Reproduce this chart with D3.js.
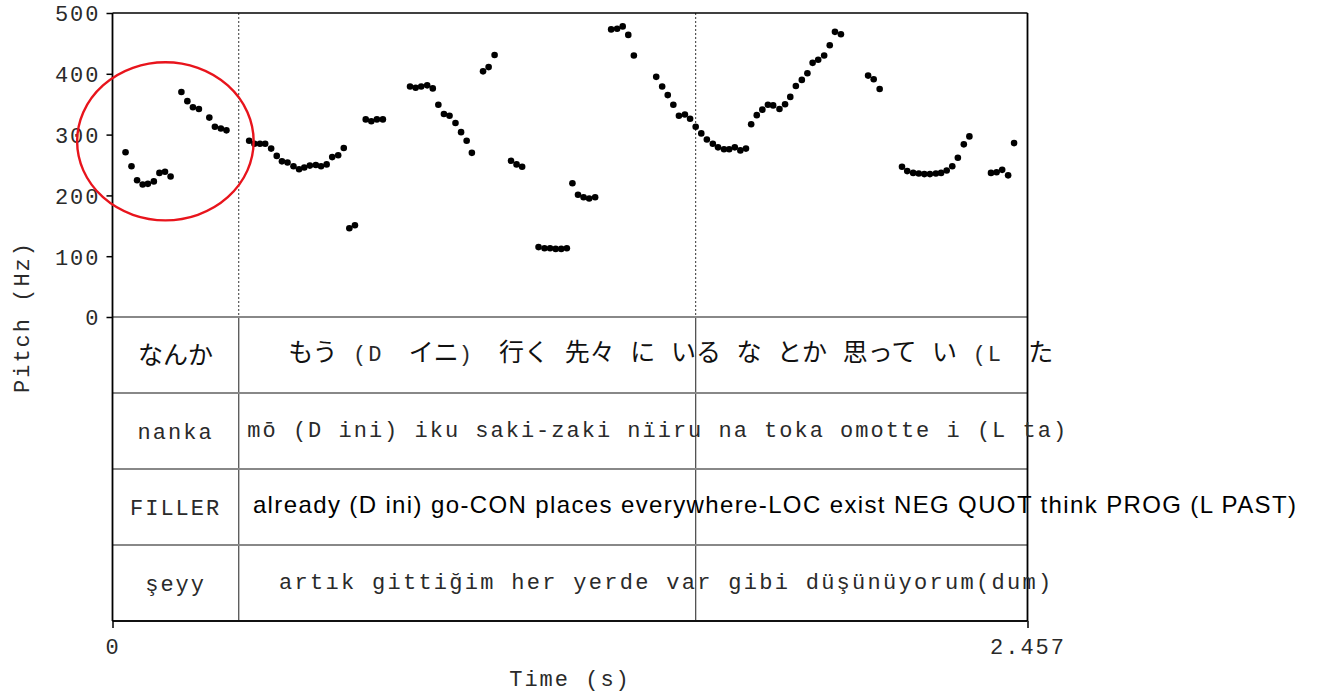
<!DOCTYPE html>
<html>
<meta charset="utf-8">
<head>
  <title>Pitch track with annotation tiers</title>
  <script src="https://d3js.org/d3.v7.min.js"></script>
  <style>
    body { margin: 0; background: #fff; }
    .mono { font-family: "Liberation Mono", "Courier New", monospace; font-size: 22px; letter-spacing: 2px; fill: #2a2a2a; }
    .jp { font-family: "Noto Sans CJK JP", sans-serif; font-size: 25px; fill: #111; }
    .sans { font-family: "Liberation Sans", Arial, sans-serif; font-size: 24px; fill: #000; }
  </style>
</head>
<body>
<div id="chart"></div>
<script>

// pitch track: time (s) and F0 (Hz)
var pitchTime = [
  0.035, 0.051, 0.066, 0.081, 0.095, 0.111, 0.126, 0.141, 0.156,
  0.185, 0.201, 0.216, 0.232, 0.260, 0.275, 0.291, 0.306,
  0.367, 0.381, 0.396, 0.410, 0.426, 0.441, 0.455, 0.470, 0.486, 0.501, 0.515, 0.530, 0.546, 0.560, 0.575, 0.590, 0.606, 0.621,
  0.636, 0.651,
  0.680, 0.695, 0.710, 0.726,
  0.799, 0.814, 0.829, 0.845, 0.860, 0.875, 0.890, 0.905, 0.921, 0.936, 0.951, 0.965,
  0.995, 1.010, 1.026,
  1.070, 1.085, 1.100,
  1.144, 1.160, 1.175, 1.190, 1.205, 1.220,
  1.235, 1.250, 1.265, 1.280, 1.296,
  1.339, 1.355, 1.370, 1.385, 1.400,
  1.460, 1.476, 1.491, 1.506, 1.521, 1.537, 1.551, 1.566, 1.581, 1.596, 1.612, 1.626, 1.642, 1.656, 1.671, 1.686, 1.701,
  1.715, 1.730, 1.745, 1.760, 1.774, 1.791, 1.806, 1.820, 1.835, 1.851, 1.866, 1.880, 1.895, 1.911, 1.926, 1.940, 1.956,
  2.029, 2.044, 2.060,
  2.120, 2.134, 2.150, 2.165, 2.180, 2.195, 2.211, 2.225, 2.240, 2.255, 2.270, 2.286, 2.301,
  2.359, 2.374, 2.389, 2.405, 2.421
];
var pitchHz = [
  271, 248, 225, 218, 219, 223, 237, 239, 231,
  370, 355, 345, 342, 328, 313, 310, 307,
  290, 285, 285, 285, 277, 265, 256, 254, 248, 243, 246, 249, 250, 248, 251, 263, 266, 278,
  146, 151,
  325, 322, 325, 325,
  379, 377, 379, 381, 376, 349, 334, 331, 319, 304, 290, 270,
  404, 411, 431,
  257, 251, 247,
  115, 113, 113, 112, 112, 113,
  220, 201, 197, 195, 197,
  473, 474, 478, 464, 430,
  395, 379, 365, 349, 331, 333, 326, 313, 302, 292, 285, 279, 276, 276, 279, 274, 277,
  317, 332, 341, 349, 348, 342, 350, 362, 380, 390, 401, 418, 423, 430, 447, 469, 465,
  397, 391, 375,
  247, 240, 237, 236, 235, 235, 236, 237, 241, 248, 262, 284, 297,
  237, 238, 242, 233, 286
];

var totalTime = 2.457;
var hzTicks = [0, 100, 200, 300, 400, 500];
var timeTicks = [0, 2.457];
var boundaries = [0.339, 1.566];

// tiers: label of the first interval, then the long label with the time span it covers
var tierFirst = ["なんか", "nanka", "FILLER", "şeyy"];
var tierFirstFont = ["jp", "mono", "mono", "mono"];
var tierLong = [
  [["もう ", "jp"], ["(D ", "mono"], ["イニ", "jp"], [") ", "mono"], ["行く 先々 に いる な とか 思って い ", "jp"], ["(L ", "mono"], ["た", "jp"]],
  [["mō (D ini) iku saki-zaki nïiru na toka omotte i (L ta)", "mono"]],
  [["already (D ini) go-CON places everywhere-LOC exist NEG QUOT think PROG (L PAST)", "sans"]],
  [["artık gittiğim her yerde var gibi düşünüyorum(dum)", "mono"]]
];
var tierLongSpan = [[0.472, 2.526], [0.362, 2.566], [0.377, 3.178], [0.447, 2.526]];
// the Japanese line keeps its glyphs together and only widens the gaps between words
var tierWordGap = [10, 0, 0, 0];

// the red ring around the first two words
var ringCenter = [0.142, 289];
var ringRadius = [0.237, 130];

var width = 1317, height = 695;
var plotLeft = 112.5, plotRight = 1027.5, plotTop = 13, pitchBottom = 317, tierH = 76;
var plotBottom = pitchBottom + tierH * tierFirst.length;

var svg = d3.select("#chart").append("svg")
  .attr("width", width)
  .attr("height", height);

var x = d3.scaleLinear().domain([0, totalTime]).range([plotLeft, plotRight]);
var y = d3.scaleLinear().domain([0, 500]).range([pitchBottom, plotTop]);

// dotted boundaries in the pitch area
svg.append("g").selectAll("line")
  .data(boundaries).enter().append("line")
    .attr("x1", function(d) { return x(d); })
    .attr("x2", function(d) { return x(d); })
    .attr("y1", plotTop)
    .attr("y2", pitchBottom)
    .attr("stroke", "#333")
    .attr("stroke-width", 1)
    .attr("stroke-dasharray", "2,2");

// solid boundaries through the tiers
svg.append("g").selectAll("line")
  .data(boundaries).enter().append("line")
    .attr("x1", function(d) { return x(d); })
    .attr("x2", function(d) { return x(d); })
    .attr("y1", pitchBottom)
    .attr("y2", plotBottom)
    .attr("stroke", "#444")
    .attr("stroke-width", 1.2);

// tier separators
svg.append("g").selectAll("line")
  .data(d3.range(tierFirst.length)).enter().append("line")
    .attr("x1", plotLeft)
    .attr("x2", plotRight)
    .attr("y1", function(d) { return pitchBottom + d * tierH; })
    .attr("y2", function(d) { return pitchBottom + d * tierH; })
    .attr("stroke", "#888")
    .attr("stroke-width", 2);

// frame
svg.append("line").attr("x1", plotLeft).attr("x2", plotRight).attr("y1", plotTop).attr("y2", plotTop)
  .attr("stroke", "#000").attr("stroke-width", 1.6);
svg.append("line").attr("x1", plotLeft).attr("x2", plotRight).attr("y1", plotBottom).attr("y2", plotBottom)
  .attr("stroke", "#111").attr("stroke-width", 2.2);
svg.append("line").attr("x1", plotRight).attr("x2", plotRight).attr("y1", plotTop).attr("y2", plotBottom)
  .attr("stroke", "#000").attr("stroke-width", 1.8);

// y axis
var yAxis = svg.append("g")
  .attr("transform", "translate(" + plotLeft + ",0)")
  .call(d3.axisLeft(y).tickValues(hzTicks).tickSize(6).tickPadding(6));
yAxis.select(".domain").remove();
yAxis.selectAll(".tick line").attr("stroke", "#000").attr("stroke-width", 1.5);
yAxis.selectAll(".tick text").attr("class", "mono").attr("font-family", null).attr("font-size", null)
  .attr("fill", "#2a2a2a").attr("dy", "0.36em");
svg.append("line").attr("x1", plotLeft).attr("x2", plotLeft).attr("y1", plotTop).attr("y2", plotBottom)
  .attr("stroke", "#000").attr("stroke-width", 1.8);

// x axis
var xAxis = svg.append("g")
  .attr("transform", "translate(0," + plotBottom + ")")
  .call(d3.axisBottom(x).tickValues(timeTicks).tickFormat(d3.format("")).tickSize(7).tickPadding(10));
xAxis.select(".domain").remove();
xAxis.selectAll(".tick line").attr("stroke", "#000").attr("stroke-width", 1.5);
xAxis.selectAll(".tick text").attr("class", "mono").attr("font-family", null).attr("font-size", null)
  .attr("fill", "#2a2a2a");

// axis titles
svg.append("text")
  .attr("class", "mono")
  .attr("x", x(totalTime / 2))
  .attr("y", 686)
  .attr("text-anchor", "middle")
  .text("Time (s)");
svg.append("text")
  .attr("class", "mono")
  .attr("transform", "translate(29," + ((plotTop + plotBottom) / 2) + ") rotate(-90)")
  .attr("text-anchor", "middle")
  .text("Pitch (Hz)");

// pitch points
svg.append("g").selectAll("circle")
  .data(pitchTime).enter().append("circle")
    .attr("cx", function(d) { return x(d); })
    .attr("cy", function(d, i) { return y(pitchHz[i]); })
    .attr("r", 3.3)
    .attr("fill", "#000");

// tier texts
var tiers = svg.append("g");
tierFirst.forEach(function(label, i) {
  var cy = pitchBottom + i * tierH + tierH / 2;
  tiers.append("text")
    .attr("class", tierFirstFont[i])
    .attr("x", x(boundaries[0] / 2))
    .attr("y", cy)
    .attr("dy", "0.35em")
    .attr("text-anchor", "middle")
    .text(label);

  var span = tierLongSpan[i];
  var t = tiers.append("text")
    .attr("y", cy)
    .attr("dy", "0.35em")
    .style("white-space", "pre");
  if (tierWordGap[i]) {
    t.attr("x", x((span[0] + span[1]) / 2))
      .attr("text-anchor", "middle")
      .attr("word-spacing", tierWordGap[i]);
  } else {
    t.attr("x", x(span[0]))
      .attr("textLength", x(span[1]) - x(span[0]))
      .attr("lengthAdjust", "spacing");
  }
  tierLong[i].forEach(function(seg) {
    t.append("tspan").attr("class", seg[1]).text(seg[0]);
  });
});

// red ring
svg.append("ellipse")
  .attr("cx", x(ringCenter[0]))
  .attr("cy", y(ringCenter[1]))
  .attr("rx", x(ringRadius[0]) - x(0))
  .attr("ry", y(0) - y(ringRadius[1]))
  .attr("fill", "none")
  .attr("stroke", "#e8141c")
  .attr("stroke-width", 2.4);

</script>
</body>
</html>
